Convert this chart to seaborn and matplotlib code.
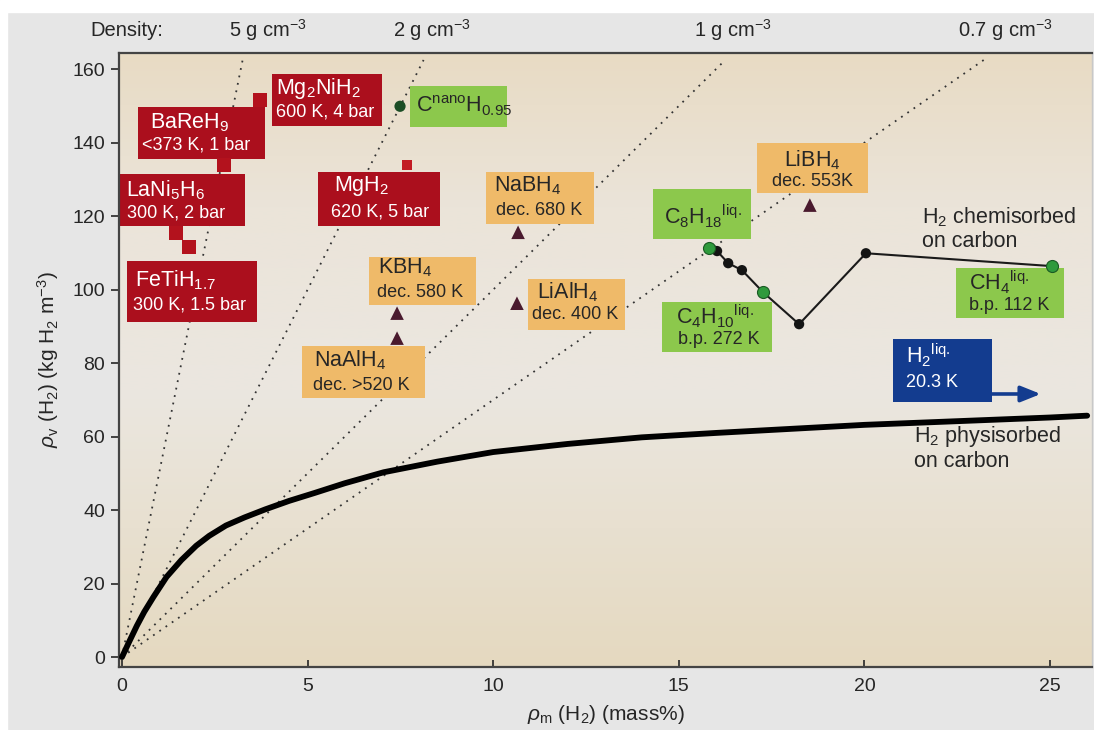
import matplotlib
matplotlib.use("Agg")
import matplotlib.pyplot as plt
from matplotlib.patches import Rectangle
from matplotlib.colors import LinearSegmentedColormap
import numpy as np
import seaborn as sns

# ---- data -------------------------------------------------------------
# hydrogen physisorbed on carbon (mass% vs kg H2 m^-3)
phys_x = [0, 0.2, 0.4, 0.6, 0.85, 1.2, 1.6, 2.0, 2.35, 2.8, 3.3, 3.86, 4.5,
          5.2, 6.0, 7.05, 8.5, 10, 12, 14, 16, 18, 20, 22.5, 25, 26]
phys_y = [0, 4.3, 8.5, 12.3, 16.4, 21.8, 26.4, 30.3, 33.0, 35.8, 38.0, 40.2,
          42.5, 44.7, 47.3, 50.3, 53.2, 55.8, 58.0, 59.8, 61.0, 62.1, 63.2,
          64.2, 65.2, 65.7]

# hydrocarbons / hydrogen chemisorbed on carbon
chem_x = [15.81, 16.03, 16.33, 16.70, 17.27, 18.24, 20.04, 25.05]
chem_y = [111.3, 110.5, 107.2, 105.3, 99.3, 90.6, 109.9, 106.4]
liquid_x = [15.81, 17.27, 25.05]          # C8H18, C4H10, CH4
liquid_y = [111.3, 99.3, 106.4]
cnano_x = [7.49]
cnano_y = [149.9]

# metal hydrides
hydride_names = ["Mg2NiH2", "BaReH9", "LaNi5H6", "FeTiH1.7"]
hydride_x = [3.72, 2.75, 1.45, 1.80]
hydride_y = [151.6, 133.9, 115.4, 111.6]
mgh2_x = [7.68]
mgh2_y = [133.9]

# complex hydrides
complex_names = ["NaBH4", "KBH4", "NaAlH4", "LiAlH4", "LiBH4"]
complex_x = [10.67, 7.41, 7.41, 10.64, 18.53]
complex_y = [115.6, 93.6, 86.8, 96.3, 123.0]

# lines of constant material density (g cm^-3)
densities = [5, 2, 1, 0.7]
density_labels = ["5 g cm$^{-3}$", "2 g cm$^{-3}$", "1 g cm$^{-3}$", "0.7 g cm$^{-3}$"]
density_ymax = 162.5

x_ticks = [0, 5, 10, 15, 20, 25]
y_ticks = [0, 20, 40, 60, 80, 100, 120, 140, 160]

# ---- style ------------------------------------------------------------
sns.set_theme(style="ticks")
plt.rcParams["font.family"] = ["Liberation Sans", "DejaVu Sans"]
plt.rcParams["mathtext.fontset"] = "custom"
plt.rcParams["mathtext.rm"] = "Liberation Sans"
plt.rcParams["mathtext.it"] = "Liberation Sans:italic"
plt.rcParams["mathtext.bf"] = "Liberation Sans:bold"

RED = "#ab0f1d"
ORANGE = "#efba69"
GREEN = "#8cc84c"
BLUE = "#133c8f"
DARK = "#262626"
TRI = "#4a1a2e"

fig = plt.figure(figsize=(10.94, 7.30), dpi=100, facecolor="#e6e6e6")
fig.patches.append(Rectangle((0, 1 - 12 / 730), 1, 12 / 730,
                             transform=fig.transFigure, color="white", zorder=-1))
fig.patches.append(Rectangle((0, 0), 7 / 1094, 1,
                             transform=fig.transFigure, color="white", zorder=-1))
ax = fig.add_axes([119 / 1094, 63 / 730, (1092 - 119) / 1094, (667 - 53) / 730])

# soft vertical background gradient of the plotting area
grad_cmap = LinearSegmentedColormap.from_list(
    "bg", [(0.0, "#e5d9c0"), (0.45, "#ebe7e0"), (0.75, "#ebe4d9"), (1.0, "#e8dbc4")])
ax.imshow(np.linspace(0, 1, 256).reshape(-1, 1), extent=[0, 1, 0, 1],
          transform=ax.transAxes, origin="lower", aspect="auto",
          cmap=grad_cmap, zorder=0)

# dotted density lines through the origin
for d in densities:
    slope = 10.0 * d
    xe = density_ymax / slope
    ax.plot([0, xe], [0, density_ymax], linestyle=(0, (1, 3.2)), color="#333333",
            linewidth=1.3, zorder=1)

# ---- annotation boxes ---------------------------------------------------
def box(x0, x1, y0, y1, color):
    ax.add_patch(Rectangle((x0, y0), x1 - x0, y1 - y0, facecolor=color,
                           edgecolor="none", zorder=2))

def label(x, y, s, size, color, ha="left"):
    ax.text(x, y, s, fontsize=size, color=color, ha=ha, va="center", zorder=3)

L1, L2 = 15.5, 13

box(4.04, 7.00, 144.5, 158.6, RED)
label(4.16, 154.8, "Mg$_2$NiH$_2$", L1, "white")
label(4.14, 148.3, "600 K, 4 bar", L2, "white")

box(0.43, 3.85, 135.5, 149.7, RED)
label(0.75, 145.3, "BaReH$_9$", L1, "white")
label(0.54, 139.3, "<373 K, 1 bar", L2, "white")

box(-0.08, 3.31, 117.3, 131.4, RED)
label(0.11, 127.1, "LaNi$_5$H$_6$", L1, "white")
label(0.13, 120.8, "300 K, 2 bar", L2, "white")

box(0.13, 3.64, 91.2, 107.8, RED)
label(0.35, 102.6, "FeTiH$_{1.7}$", L1, "white")
label(0.30, 95.8, "300 K, 1.5 bar", L2, "white")

box(5.28, 8.57, 117.3, 132.0, RED)
label(5.71, 128.2, "MgH$_2$", L1, "white")
label(5.63, 121.1, "620 K, 5 bar", L2, "white")

box(7.76, 10.37, 144.2, 155.4, GREEN)
label(7.92, 149.9, "C$^{\\rm nano}$H$_{0.95}$", L1, DARK)

box(9.81, 12.72, 117.8, 132.0, ORANGE)
label(10.02, 128.2, "NaBH$_4$", L1, DARK)
label(10.08, 121.6, "dec. 680 K", L2, DARK)

box(6.65, 9.54, 95.8, 109.0, ORANGE)
label(6.90, 105.9, "KBH$_4$", L1, DARK)
label(6.87, 99.3, "dec. 580 K", L2, DARK)

box(4.85, 8.16, 70.5, 84.6, ORANGE)
label(5.17, 80.8, "NaAlH$_4$", L1, DARK)
label(5.15, 74.0, "dec. >520 K", L2, DARK)

box(10.94, 13.55, 89.0, 102.9, ORANGE)
label(11.18, 99.3, "LiAlH$_4$", L1, DARK)
label(11.05, 93.1, "dec. 400 K", L2, DARK)

box(17.10, 20.10, 126.3, 139.9, ORANGE)
label(18.60, 135.2, "LiBH$_4$", L1, DARK, ha="center")
label(18.60, 129.5, "dec. 553K", L2, DARK, ha="center")

box(14.30, 16.94, 113.7, 127.3, GREEN)
label(14.60, 120.0, "C$_8$H$_{18}{}^{\\rm liq.}$", L1, DARK)

box(14.55, 17.51, 83.0, 96.6, GREEN)
label(14.92, 92.8, "C$_4$H$_{10}{}^{\\rm liq.}$", L1, DARK)
label(14.98, 86.5, "b.p. 272 K", L2, DARK)

box(22.47, 25.38, 92.2, 105.9, GREEN)
label(22.82, 102.0, "CH$_4{}^{\\rm liq.}$", L1, DARK)
label(22.82, 95.8, "b.p. 112 K", L2, DARK)

box(20.77, 23.44, 69.4, 86.5, BLUE)
label(21.12, 82.2, "H$_2{}^{\\rm liq.}$", L1, "white")
label(21.12, 74.8, "20.3 K", L2, "white")
ax.annotate("", xy=(24.75, 71.6), xytext=(23.40, 71.6),
            arrowprops=dict(arrowstyle="-|>,head_length=1.0,head_width=0.4",
                            color=BLUE, linewidth=2.6, shrinkA=0, shrinkB=0),
            zorder=3)

label(21.55, 119.7, "H$_2$ chemisorbed", L1, DARK)
label(21.55, 113.0, "on carbon", L1, DARK)
label(21.34, 59.9, "H$_2$ physisorbed", L1, DARK)
label(21.34, 53.1, "on carbon", L1, DARK)

# ---- data marks -------------------------------------------------------
sns.lineplot(x=phys_x, y=phys_y, color="black", linewidth=4.2, ax=ax,
             estimator=None, zorder=4)
sns.lineplot(x=chem_x, y=chem_y, color="#1a1a1a", linewidth=1.5, ax=ax,
             estimator=None, zorder=4)
sns.scatterplot(x=chem_x, y=chem_y, color="#141414", s=55, edgecolor="none",
                ax=ax, zorder=5)
sns.scatterplot(x=liquid_x, y=liquid_y, color="#2f9a3c", s=75,
                edgecolor="#1b5a24", linewidth=0.8, ax=ax, zorder=6)
sns.scatterplot(x=cnano_x, y=cnano_y, color="#1b4d25", s=65, edgecolor="none",
                ax=ax, zorder=6)
sns.scatterplot(x=hydride_x, y=hydride_y, marker="s", color="#b3121d", s=110,
                edgecolor="none", ax=ax, zorder=5)
sns.scatterplot(x=mgh2_x, y=mgh2_y, marker="s", color="#c21b24", s=55,
                edgecolor="none", ax=ax, zorder=5)
sns.scatterplot(x=complex_x, y=complex_y, marker="^", color=TRI, s=95,
                edgecolor="none", ax=ax, zorder=5)

# density captions above the plot
trans = matplotlib.transforms.blended_transform_factory(ax.transData, ax.transAxes)
ax.text(-0.86, 1.037, "Density:", transform=trans, fontsize=14.5, color=DARK,
        ha="left", va="center")
for xc, s in zip([3.93, 8.35, 16.46, 23.79], density_labels):
    ax.text(xc, 1.037, s, transform=trans, fontsize=14.5, color=DARK,
            ha="center", va="center")

# ---- axes -------------------------------------------------------------
ax.set_xlim(-0.08, 26.13)
ax.set_ylim(-2.7, 164.4)
ax.set_xticks(x_ticks)
ax.set_yticks(y_ticks)
ax.tick_params(axis="x", direction="in", length=5, width=1.2, labelsize=14,
               colors=DARK, pad=8)
ax.tick_params(axis="y", direction="out", length=6, width=1.2, labelsize=14,
               colors=DARK, pad=4)
for side in ["left", "bottom", "top"]:
    ax.spines[side].set_color("#444444")
    ax.spines[side].set_linewidth(1.6)
ax.spines["right"].set_color("#c8c8c8")
ax.spines["right"].set_linewidth(1.0)
ax.set_xlabel("$\\rho_{\\rm m}$ (H$_2$) (mass%)", fontsize=15, color=DARK,
              labelpad=6)
ax.set_ylabel("$\\rho_{\\rm v}$ (H$_2$) (kg H$_2$ m$^{-3}$)", fontsize=15,
              color=DARK, labelpad=8)

fig.savefig("out.png", dpi=100, facecolor=fig.get_facecolor())
